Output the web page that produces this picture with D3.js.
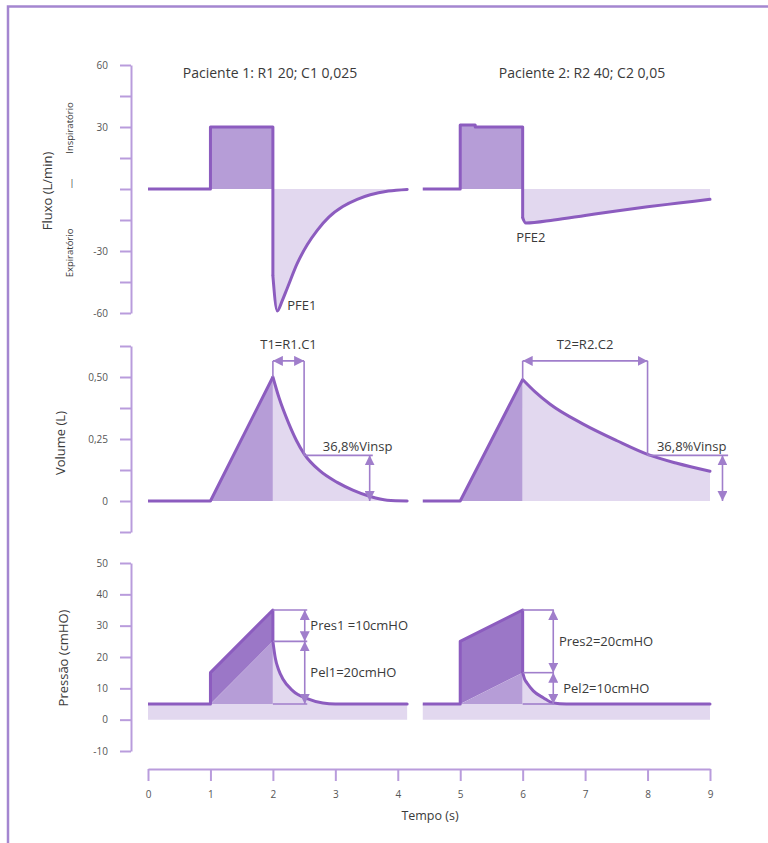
<!DOCTYPE html>
<html>
<head>
<meta charset="utf-8">
<script src="https://d3js.org/d3.v7.min.js"></script>
<style>
    body { margin: 0; background: #fff; }
    text { font-family: "Open Sans", Lato, sans-serif; fill: #3a3a3a; }
</style>
</head>
<body>
<div id="chart"></div>
<script>
// ---- data ----
const timeTicks = [0, 1, 2, 3, 4, 5, 6, 7, 8, 9];
const flowTicks = [60, 45, 30, 15, 0, -15, -30, -45, -60];
const flowTickLabels = {"60": "60", "30": "30", "-30": "-30", "-60": "-60"};
const volTicks = [0.625, 0.5, 0.375, 0.25, 0.125, 0, -0.125];
const volTickLabels = {"0.5": "0,50", "0.25": "0,25", "0": "0"};
const presTicks = [50, 40, 30, 20, 10, 0, -10];

const titles = ["Paciente 1: R1 20; C1 0,025", "Paciente 2: R2 40; C2 0,05"];

// Fluxo (L/min)
const flow1Insp = [[0, 0], [1, 0], [1, 30], [2, 30], [2, -42]];
const flow1Exp = [[2, -42], [2.07, -59], [2.15, -54], [2.23, -48], [2.39, -36], [2.55, -27], [2.71, -20],
    [2.9, -13.5], [3.12, -8.5], [3.35, -5], [3.56, -2.8], [3.85, -1], [4.15, -0.2]];
const flow2Insp = [[4.4, 0], [5, 0], [5, 31], [5.24, 31], [5.24, 30], [6, 30], [6, -14]];
const flow2Exp = [[6, -14], [6.05, -16.5], [6.5, -15], [7, -12.8], [7.5, -10.6], [8, -8.6], [8.5, -6.8], [9, -5]];

// Volume (L)
const vol1Insp = [[0, 0], [1, 0], [2, 0.5]];
const vol1Exp = [[2, 0.5], [2.1, 0.415], [2.25, 0.315], [2.375, 0.245], [2.5, 0.19], [2.75, 0.122], [3.03, 0.075],
    [3.28, 0.044], [3.56, 0.018], [3.83, 0.003], [4.15, 0]];
const vol2Insp = [[4.4, 0], [5, 0], [6, 0.49]];
const vol2Exp = [[6, 0.49], [6.2, 0.44], [6.44, 0.39], [6.97, 0.31], [7.51, 0.243], [8, 0.188],
    [8.47, 0.152], [9, 0.12]];

// Pressão (cmHO)
const peep = 5;
const pres1Insp = [[0, 5], [1, 5], [1, 15], [2, 35], [2, 25]];
const pel1 = [[1, 5], [2, 25]];
const pres1Exp = [[2, 25], [2.04, 19.5], [2.09, 16], [2.16, 13], [2.32, 9.2], [2.55, 6.7], [2.8, 5.3], [3, 5], [4.15, 5]];
const pres2Insp = [[4.4, 5], [5, 5], [5, 25], [6, 35], [6, 15]];
const pel2 = [[5, 5], [6, 15]];
const pres2Exp = [[6, 15], [6.03, 13], [6.07, 11.7], [6.17, 9.2], [6.33, 7], [6.49, 5.3], [6.7, 5], [9, 5]];

// annotations
const tauLevel = 0.565;
const vol368 = 0.184;
const tau1 = [2, 2.5], tau2 = [6, 8];
const vinsp1 = [3.6, 3.55], vinsp2 = [9.29, 9.2];     // [line end, arrow position]
const presLevels1 = [35, 25, 5], presLevels2 = [35, 15, 5];
const presSpan1 = [2, 2.55, 2.51], presSpan2 = [6, 6.5, 6.49];  // [from, to, arrow]

// ---- drawing ----
const W = 768, H = 843;
const LINE = '#8c5cbf', DARK = '#9b77c7', MED = '#b69dd7', LIGHT = '#e2d8ef',
    AXIS = '#b99cdc', ANN = '#a07ecb';

const svg = d3.select('#chart').append('svg')
    .attr('width', W).attr('height', H);

svg.append('defs').append('marker')
    .attr('id', 'arr')
    .attr('viewBox', '0 0 10 10')
    .attr('refX', 10).attr('refY', 5)
    .attr('markerUnits', 'userSpaceOnUse')
    .attr('markerWidth', 10).attr('markerHeight', 10)
    .attr('orient', 'auto-start-reverse')
    .append('path').attr('d', 'M0,0L10,5L0,10z').attr('fill', ANN);

// frame
svg.append('path').attr('d', 'M8,843V6.5H768')
    .attr('fill', 'none').attr('stroke', '#a486d0').attr('stroke-width', 2.5);

const x = d3.scaleLinear().domain([0, 9]).range([148, 710]);
const yFlow = d3.scaleLinear().domain([-60, 60]).range([313, 65]);
const yVol = d3.scaleLinear().domain([-0.125, 0.625]).range([532, 346]);
const yPres = d3.scaleLinear().domain([-10, 50]).range([751, 563]);

function styleAxis(g) {
    g.select('.domain').attr('stroke', AXIS).attr('stroke-width', 2);
    g.selectAll('.tick line').attr('stroke', AXIS).attr('stroke-width', 2);
    g.selectAll('.tick text').style('font-size', '10px').style('fill', '#555');
}

function yAxis(scale, ticks, fmt) {
    svg.append('g')
        .attr('transform', 'translate(131,0)')
        .call(d3.axisLeft(scale).tickValues(ticks).tickSize(11).tickSizeOuter(0)
            .tickPadding(12).tickFormat(fmt))
        .call(styleAxis);
}
yAxis(yFlow, flowTicks, d => flowTickLabels[String(d)] || '');
yAxis(yVol, volTicks, d => volTickLabels[String(d)] || '');
yAxis(yPres, presTicks, d => String(d));

svg.append('g')
    .attr('transform', 'translate(0,769)')
    .call(d3.axisBottom(x).tickValues(timeTicks).tickSize(12).tickSizeOuter(0).tickPadding(10))
    .call(styleAxis);

// axis titles
function label(txt, px, py, size, rot) {
    svg.append('text')
        .attr('transform', 'translate(' + px + ',' + py + ')' + (rot ? ' rotate(-90)' : ''))
        .attr('text-anchor', 'middle')
        .attr('dy', '0.35em')
        .style('font-size', size + 'px')
        .text(txt);
}
label('Fluxo (L/min)', 47, 191, 13, true);
label('Inspiratório', 70, 128, 9.5, true);
label('|', 72, 183, 9, false);
label('Expiratório', 70, 253, 9.5, true);
label('Volume (L)', 60, 443, 13, true);
label('Pressão (cmHO)', 63, 658, 13, true);
label('Tempo (s)', 430, 816, 12.5, false);
label(titles[0], 270, 73, 14, false);
label(titles[1], 582, 73, 14, false);

// generators
const lineLin = ys => d3.line().x(d => x(d[0])).y(d => ys(d[1]));
const lineSmooth = ys => d3.line().x(d => x(d[0])).y(d => ys(d[1])).curve(d3.curveMonotoneX);
const areaLin = (ys, base) => d3.area().x(d => x(d[0])).y0(ys(base)).y1(d => ys(d[1]));
const areaSmooth = (ys, base) => d3.area().x(d => x(d[0])).y0(ys(base)).y1(d => ys(d[1])).curve(d3.curveMonotoneX);

const fills = svg.append('g');
const lines = svg.append('g');

function trace(ys, insp, exp) {
    lines.append('path').attr('d', lineLin(ys)(insp))
        .attr('fill', 'none').attr('stroke', LINE).attr('stroke-width', 3).attr('stroke-linejoin', 'round');
    lines.append('path').attr('d', lineSmooth(ys)(exp))
        .attr('fill', 'none').attr('stroke', LINE).attr('stroke-width', 3).attr('stroke-linecap', 'round');
}

// flow
[[flow1Insp, flow1Exp, 1], [flow2Insp, flow2Exp, 5]].forEach(([insp, exp, t0]) => {
    fills.append('path').attr('d', areaLin(yFlow, 0)(insp.filter(d => d[0] >= t0 && d[1] > 0))).attr('fill', MED);
    fills.append('path').attr('d', areaSmooth(yFlow, 0)(exp)).attr('fill', LIGHT);
    trace(yFlow, insp, exp);
});

// volume
[[vol1Insp, vol1Exp, 1], [vol2Insp, vol2Exp, 5]].forEach(([insp, exp, t0]) => {
    fills.append('path').attr('d', areaLin(yVol, 0)(insp.filter(d => d[0] >= t0))).attr('fill', MED);
    fills.append('path').attr('d', areaSmooth(yVol, 0)(exp)).attr('fill', LIGHT);
    trace(yVol, insp, exp);
});

// pressure
[[pres1Insp, pel1, pres1Exp, 1], [pres2Insp, pel2, pres2Exp, 5]].forEach(([insp, pel, exp, t0]) => {
    const span = [insp[0][0], exp[exp.length - 1][0]];
    fills.append('path').attr('d', areaLin(yPres, 0)(span.map(t => [t, peep]))).attr('fill', LIGHT);
    const top = insp.filter(d => d[0] >= t0 && d[1] > peep).concat(pel.slice().reverse());
    fills.append('path').attr('d', lineLin(yPres)(top) + 'Z').attr('fill', DARK);
    fills.append('path').attr('d', areaLin(yPres, peep)(pel)).attr('fill', MED);
    fills.append('path').attr('d', areaSmooth(yPres, peep)(exp)).attr('fill', LIGHT);
    trace(yPres, insp, exp);
});

// annotations
const ann = svg.append('g');
function seg(x1, y1, x2, y2, arrows) {
    const l = ann.append('line')
        .attr('x1', x1).attr('y1', y1).attr('x2', x2).attr('y2', y2)
        .attr('stroke', ANN).attr('stroke-width', 1.6);
    if (arrows) l.attr('marker-start', 'url(#arr)').attr('marker-end', 'url(#arr)');
}
function note(txt, px, py, anchor) {
    ann.append('text').attr('x', px).attr('y', py).attr('dy', '0.35em')
        .attr('text-anchor', anchor || 'start')
        .style('font-size', '13px').text(txt);
}

note('PFE1', x(2.23), yFlow(-56.5), 'start');
note('PFE2', x(6.13), yFlow(-23.5), 'middle');

[[tau1, vinsp1, vol1Exp, 'T1=R1.C1', 2.8], [tau2, vinsp2, vol2Exp, 'T2=R2.C2', 8.15]].forEach(([tau, vin, exp, txt, tx]) => {
    const peak = exp[0][1];
    seg(x(tau[0]), yVol(tauLevel), x(tau[0]), yVol(peak));
    seg(x(tau[1]), yVol(tauLevel), x(tau[1]), yVol(vol368));
    seg(x(tau[0]), yVol(tauLevel), x(tau[1]), yVol(tauLevel), true);
    seg(x(tau[1]), yVol(vol368), x(vin[0]), yVol(vol368));
    seg(x(vin[1]), yVol(vol368), x(vin[1]), yVol(0), true);
    note(txt, (x(tau[0]) + x(tau[1])) / 2, yVol(tauLevel) - 16, 'middle');
    note('36,8%Vinsp', x(tx), yVol(vol368) - 9, 'start');
});

[[presSpan1, presLevels1, 'Pres1 =10cmHO', 'Pel1=20cmHO', 2.6, 2.6],
 [presSpan2, presLevels2, 'Pres2=20cmHO', 'Pel2=10cmHO', 6.58, 6.65]].forEach(([sp, lv, t1, t2, tx1, tx2]) => {
    lv.forEach(v => seg(x(sp[0]), yPres(v), x(sp[1]), yPres(v)));
    seg(x(sp[2]), yPres(lv[0]), x(sp[2]), yPres(lv[1]), true);
    seg(x(sp[2]), yPres(lv[1]), x(sp[2]), yPres(lv[2]), true);
    note(t1, x(tx1), yPres((lv[0] + lv[1]) / 2), 'start');
    note(t2, x(tx2), yPres((lv[1] + lv[2]) / 2), 'start');
});
</script>
</body>
</html>
